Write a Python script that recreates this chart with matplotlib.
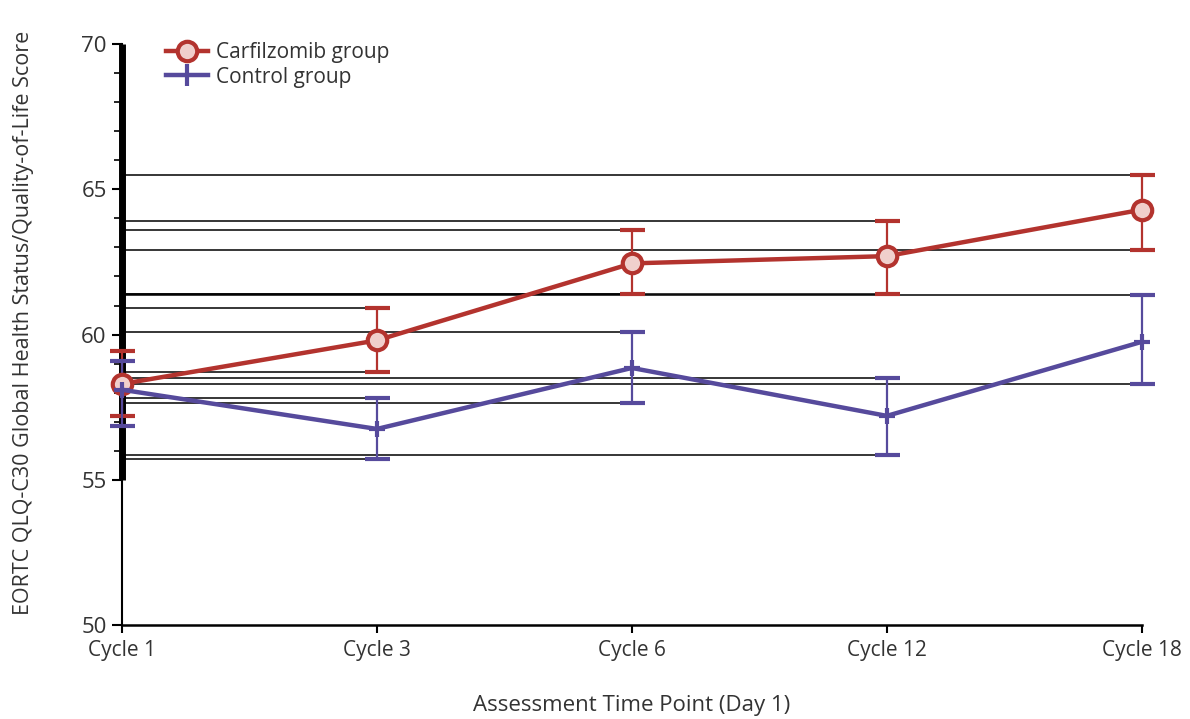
import matplotlib.pyplot as plt
import numpy as np
from matplotlib.ticker import FixedLocator
from matplotlib.lines import Line2D

plt.rcParams['font.family'] = ['Open Sans', 'DejaVu Sans']

cycles = ['Cycle 1', 'Cycle 3', 'Cycle 6', 'Cycle 12', 'Cycle 18']

# carfilzomib group: mean, lower and upper error limit
carf_mean = [58.3, 59.8, 62.45, 62.7, 64.3]
carf_low = [57.2, 58.7, 61.4, 61.4, 62.9]
carf_high = [59.45, 60.9, 63.6, 63.9, 65.5]

# control group
ctrl_mean = [58.1, 56.75, 58.85, 57.2, 59.75]
ctrl_low = [56.85, 55.7, 57.65, 55.85, 58.3]
ctrl_high = [59.1, 57.8, 60.1, 58.5, 61.35]

red = '#b3332e'
purple = '#564a9c'
txt = '#333333'

fig = plt.figure(figsize=(11.9, 7.19), dpi=100)
ax = fig.add_axes([0.1025, 0.1307, 0.857, 0.808])

x = np.arange(len(cycles))

# the odd horizontal lines from the y axis to each error cap
for i in range(1, len(cycles)):
    for v in (carf_low[i], carf_high[i], ctrl_low[i], ctrl_high[i]):
        ax.hlines(v, 0, x[i], color='black', lw=1.1, zorder=1)

cm = np.array(carf_mean)
ce = [cm - np.array(carf_low), np.array(carf_high) - cm]
ax.errorbar(x, cm, yerr=ce, color=red, lw=3.2, elinewidth=1.6, capsize=9, capthick=1.6,
            marker='o', ms=14, mfc='#f0cfcc', mec=red, mew=3,
            clip_on=False, zorder=3)

km = np.array(ctrl_mean)
ke = [km - np.array(ctrl_low), np.array(ctrl_high) - km]
ax.errorbar(x, km, yerr=ke, color=purple, lw=3.2, elinewidth=1.6, capsize=9, capthick=1.6,
            marker='+', ms=12, mew=3, clip_on=False, zorder=3)

ax.set_xlim(0, 4)
ax.set_ylim(50, 70)
ax.set_xticks(x)
ax.set_xticklabels(cycles, fontsize=15, color=txt)
ax.set_yticks([50, 55, 60, 65, 70])
ax.set_yticklabels(['50', '55', '60', '65', '70'], fontsize=16, color=txt)
ax.yaxis.set_minor_locator(FixedLocator([v for v in range(56, 70) if v % 5 != 0]))
ax.tick_params(axis='y', which='major', length=7, width=1.5, pad=4)
ax.tick_params(axis='y', which='minor', length=6, width=1.2)
ax.tick_params(axis='x', length=6, width=1.5, pad=5)

for s in ['top', 'right']:
    ax.spines[s].set_visible(False)
ax.spines['left'].set_linewidth(1.5)
ax.spines['bottom'].set_linewidth(1.8)
# heavy part of the y axis
ax.plot([0, 0], [55, 70], color='black', lw=5, clip_on=False, zorder=2, solid_capstyle='butt')

ax.set_ylabel('EORTC QLQ-C30 Global Health Status/Quality-of-Life Score', fontsize=15.5,
              color=txt)
ax.yaxis.set_label_coords(-0.086, 0.52)
ax.set_xlabel('Assessment Time Point (Day 1)', fontsize=16, color=txt, labelpad=24)

handles = [
    Line2D([], [], color=red, lw=3.2, marker='o', ms=14, mfc='#f0cfcc', mec=red, mew=3),
    Line2D([], [], color=purple, lw=3.2, marker='|', ms=16, mew=3),
]
ax.legend(handles, ['Carfilzomib group', 'Control group'], loc='upper left',
          bbox_to_anchor=(0.025, 1.035), frameon=False, fontsize=15,
          handlelength=2.0, handletextpad=0.4, labelspacing=0.15, labelcolor=txt)

fig.savefig('out.png', dpi=100)
